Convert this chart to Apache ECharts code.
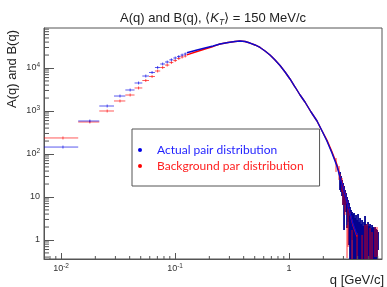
<!DOCTYPE html>
<html>
<head>
<meta charset="utf-8">
<script src="https://cdn.jsdelivr.net/npm/echarts@6/dist/echarts.min.js"></script>
<style>
html, body { margin: 0; padding: 0; background: #fff; }
#chart { width: 387px; height: 287px; }
</style>
</head>
<body>
<div id="chart"></div>
<script>
// wide low-q bins (drawn as steps with error ticks)
const binWidth = 0.0075;
const stepQ = [0.0104, 0.0179, 0.0254, 0.0329, 0.0404, 0.0479, 0.0554, 0.0629,
    0.0704, 0.0779, 0.0854, 0.0929, 0.1004, 0.1079, 0.1154, 0.1229];
const stepA = [145, 585, 1306, 2230, 3080, 4480, 6510, 7860,
    10270, 12400, 13800, 15500, 17100, 18500, 20000, 21200];
const stepB = [236, 555, 1000, 1710, 2355, 3430, 5120, 6340,
    8510, 10270, 11700, 13400, 14900, 16600, 18000, 19000];

// dense region, bins too narrow to separate
const curveQ = [0.127, 0.156, 0.183, 0.216, 0.248, 0.292, 0.336, 0.371, 0.411, 0.455,
    0.503, 0.557, 0.616, 0.681, 0.754, 0.834, 0.923, 1.02, 1.13, 1.25,
    1.38, 1.56, 1.76, 1.95, 2.15, 2.38, 2.63, 2.86, 3.10, 3.36, 3.64, 3.95];
const curveA = [22600, 26200, 29200, 32500, 36100, 39200, 41300, 42500, 41300, 38100,
    34300, 30000, 24850, 20000, 15350, 11440, 8070, 5550, 3615, 2355,
    1620, 948, 585, 343, 200, 105, 52.6, 23.6, 11.1, 5.0, 2.36, 1.3];
const curveB = [20200, 24200, 27700, 31700, 36100, 39200, 41300, 42500, 41300, 38100,
    34300, 30000, 24850, 20000, 15350, 11440, 8070, 5550, 3615, 2355,
    1620, 948, 585, 343, 210, 112, 57, 25, 11.5, 5.0, 2.2, 1.2];

// large-q tail: error bars (low, high)
const noiseQ = [2.802, 2.858, 2.916, 2.977, 3.038, 3.099, 3.162, 3.227, 3.292, 3.360,
    3.428, 3.498, 3.570, 3.643, 3.717, 3.793, 3.870, 3.950, 4.030, 4.112,
    4.197, 4.282, 4.370, 4.459, 4.550, 4.642, 4.737, 4.833, 4.932, 5.033,
    5.135, 5.240, 5.347, 5.456, 5.567, 5.681, 5.797, 5.915, 6.035];
const blueHi = [38.1, 30.8, 24.9, 21.2, 18.0, 14.5, 12.4, 10.0, 8.5, 7.25,
    5.85, 4.99, 4.48, 4.02, 4.24, 3.25, 3.81, 2.92, 4.02, 2.62,
    3.25, 2.36, 2.92, 2.12, 2.62, 3.61, 2.36, 2.12, 2.62, 2.12,
    2.36, 1.90, 2.23, 2.0, 1.90, 2.0, 1.80, 1.71, 1.53];
const blueLo = [14.5, 13.1, 10.6, 6.5, 1.71, 6.5, 4.48, 1.90, 2.62, 0.765,
    0.1, 0.1, 1.0, 0.1, 0.1, 0.1, 0.1, 0.1, 0.1, 0.1,
    0.1, 0.1, 0.1, 0.1, 0.1, 0.1, 0.1, 0.1, 0.1, 0.1,
    0.1, 0.1, 0.1, 0.1, 0.1, 0.1, 0.1, 0.1, 0.585];
const redNoiseQ = [2.584, 2.746, 2.916, 2.977, 3.099, 3.227, 3.292, 3.570,
    3.950, 4.370, 4.642, 4.833, 5.135, 5.347, 5.681, 5.915];
const redHi = [80.7, 52.6, 27.7, 19.0, 13.1, 2.23, 5.55, 1.71,
    1.45, 1.31, 2.23, 2.36, 1.90, 1.53, 2.0, 2.0];
const redLo = [38.1, 24.9, 13.1, 6.5, 3.81, 0.38, 0.69, 0.1,
    0.1, 0.1, 0.1, 0.1, 0.1, 0.1, 0.40, 0.40];

// axis ranges and minor ticks
const xMin = 0.00709, xMax = 6.54;
const yMin = 0.361, yMax = 85200;
const xMinorTicks = [0.008, 0.009, 0.02, 0.03, 0.04, 0.05, 0.06, 0.07, 0.08, 0.09,
    0.2, 0.3, 0.4, 0.5, 0.6, 0.7, 0.8, 0.9, 2, 3, 4, 5, 6];
const yMinorTicks = [0.4, 0.5, 0.6, 0.7, 0.8, 0.9, 2, 3, 4, 5, 6, 7, 8, 9,
    20, 30, 40, 50, 60, 70, 80, 90, 200, 300, 400, 500, 600, 700, 800, 900,
    2000, 3000, 4000, 5000, 6000, 7000, 8000, 9000,
    20000, 30000, 40000, 50000, 60000, 70000, 80000];

const BLUE = '#0000e6', RED = '#ff0000';
const FONT = '"Liberation Sans", Arial, sans-serif';
const AXIS = '#555';

function powLabel(v) {
    const e = Math.round(Math.log10(v));
    if (Math.abs(v / Math.pow(10, e) - 1) > 1e-6) return '';
    if (e === 0) return '{b|1}';
    if (e === 1) return '{b|10}';
    return '{b|10}{s|' + e + '}';
}
const labelRich = {
    b: { fontSize: 9, lineHeight: 12, fontFamily: FONT, color: '#333' },
    s: { fontSize: 6.5, lineHeight: 7, verticalAlign: 'top', fontFamily: FONT, color: '#333' }
};

function stepSeries(name, values, color) {
    return {
        name: name,
        type: 'custom',
        clip: true,
        itemStyle: { color: color },
        data: stepQ.map((q, i) => [q, values[i]]),
        renderItem: function (params, api) {
            const q = api.value(0), v = api.value(1);
            const l = api.coord([q - binWidth / 2, v]);
            const r = api.coord([q + binWidth / 2, v]);
            const m = api.coord([q, v]);
            return {
                type: 'group',
                children: [
                    { type: 'line', shape: { x1: l[0], y1: m[1], x2: r[0], y2: m[1] },
                      style: { stroke: color, lineWidth: 1, opacity: 0.65 } },
                    { type: 'line', shape: { x1: m[0], y1: m[1] - 1.5, x2: m[0], y2: m[1] + 1.5 },
                      style: { stroke: color, lineWidth: 0.8, opacity: 0.8 } }
                ]
            };
        }
    };
}

function curveSeries(name, values, color) {
    return {
        name: name,
        type: 'line',
        showSymbol: false,
        clip: true,
        color: color,
        lineStyle: { color: color, width: 1.4 },
        data: curveQ.map((q, i) => [q, values[i]])
    };
}

function errorSeries(name, qs, lo, hi, color, width) {
    return {
        name: name,
        type: 'custom',
        clip: true,
        itemStyle: { color: color },
        data: qs.map((q, i) => [q, lo[i], hi[i]]),
        renderItem: function (params, api) {
            const a = api.coord([api.value(0), api.value(1)]);
            const b = api.coord([api.value(0), api.value(2)]);
            return { type: 'line', shape: { x1: a[0], y1: a[1], x2: b[0], y2: b[1] },
                     style: { stroke: color, lineWidth: width } };
        }
    };
}

function minorTickSeries(points, horizontal, len) {
    return {
        type: 'custom',
        silent: true,
        clip: false,
        z: 5,
        data: points,
        renderItem: function (params, api) {
            const p = api.coord([api.value(0), api.value(1)]);
            const shape = horizontal
                ? { x1: p[0], y1: p[1], x2: p[0] + len, y2: p[1] }
                : { x1: p[0], y1: p[1], x2: p[0], y2: p[1] - len };
            return { type: 'line', shape: shape, style: { stroke: AXIS, lineWidth: 1 } };
        }
    };
}

const chart = echarts.init(document.getElementById('chart'));

const option = {
    animation: false,
    backgroundColor: '#fff',
    title: {
        text: '{n|A(q) and B(q), ⟨}{i|K}{t|T}{n|⟩ = 150 MeV/c}',
        left: 115,
        top: 4,
        textStyle: {
            fontWeight: 'normal',
            rich: {
                n: { fontSize: 13, lineHeight: 18, fontFamily: FONT, fontWeight: 'normal', color: '#222' },
                i: { fontSize: 13, lineHeight: 18, fontFamily: FONT, fontWeight: 'normal', fontStyle: 'italic', color: '#222' },
                t: { fontSize: 8.5, lineHeight: 10, verticalAlign: 'bottom', fontFamily: FONT, fontWeight: 'normal', fontStyle: 'italic', color: '#222' }
            }
        }
    },
    legend: {
        orient: 'vertical',
        left: 132,
        top: 129,
        icon: 'circle',
        itemWidth: 4,
        itemHeight: 4,
        itemGap: 2,
        padding: [14, 16, 13, 6],
        borderColor: AXIS,
        borderWidth: 1,
        backgroundColor: '#fff',
        selectedMode: false,
        textStyle: { fontFamily: 'Lato, sans-serif', fontSize: 12, lineHeight: 14, padding: [0, 0, 0, 10] },
        data: [
            { name: 'Actual pair distribution', textStyle: { color: '#1f1fff' } },
            { name: 'Background par distribution', textStyle: { color: '#ff1f1f' } }
        ]
    },
    grid: {
        left: 44, top: 28, right: 5, bottom: 28,
        show: true, borderColor: AXIS, borderWidth: 1, backgroundColor: '#fff'
    },
    xAxis: {
        type: 'log',
        logBase: 10,
        min: xMin,
        max: xMax,
        name: 'q [GeV/c]',
        nameLocation: 'end',
        nameGap: 2,
        nameTextStyle: { fontFamily: FONT, fontSize: 13, color: '#222', align: 'right', verticalAlign: 'top', padding: [15, 0, 0, 0] },
        axisLine: { show: true, lineStyle: { color: AXIS } },
        axisTick: { show: true, inside: true, length: 6, lineStyle: { color: AXIS } },
        splitLine: { show: false },
        axisLabel: { margin: 4, formatter: powLabel, rich: labelRich, showMinLabel: false, showMaxLabel: false }
    },
    yAxis: {
        type: 'log',
        logBase: 10,
        min: yMin,
        max: yMax,
        name: 'A(q) and B(q)',
        nameLocation: 'end',
        nameRotate: 90,
        nameGap: -2,
        nameTextStyle: { fontFamily: FONT, fontSize: 13, color: '#222', align: 'right', verticalAlign: 'bottom', padding: [0, 0, 25, 0] },
        axisLine: { show: true, lineStyle: { color: AXIS } },
        axisTick: { show: true, inside: true, length: 10, lineStyle: { color: AXIS } },
        splitLine: { show: false },
        axisLabel: { margin: 4, formatter: powLabel, rich: labelRich, showMinLabel: false, showMaxLabel: false }
    },
    series: [
        stepSeries('Background par distribution', stepB, RED),
        curveSeries('Background par distribution', curveB, RED),
        stepSeries('Actual pair distribution', stepA, BLUE),
        curveSeries('Actual pair distribution', curveA, '#0a0ad0'),
        errorSeries('Actual pair distribution', noiseQ, blueLo, blueHi, '#00008f', 1.8),
        errorSeries('Background par distribution', redNoiseQ, redLo, redHi, 'rgba(255,0,0,0.8)', 1),
        minorTickSeries(xMinorTicks.map(v => [v, yMin]), false, 3),
        minorTickSeries(yMinorTicks.map(v => [xMin, v]), true, 5)
    ]
};

chart.setOption(option);
window.addEventListener('resize', () => chart.resize());
</script>
</body>
</html>
